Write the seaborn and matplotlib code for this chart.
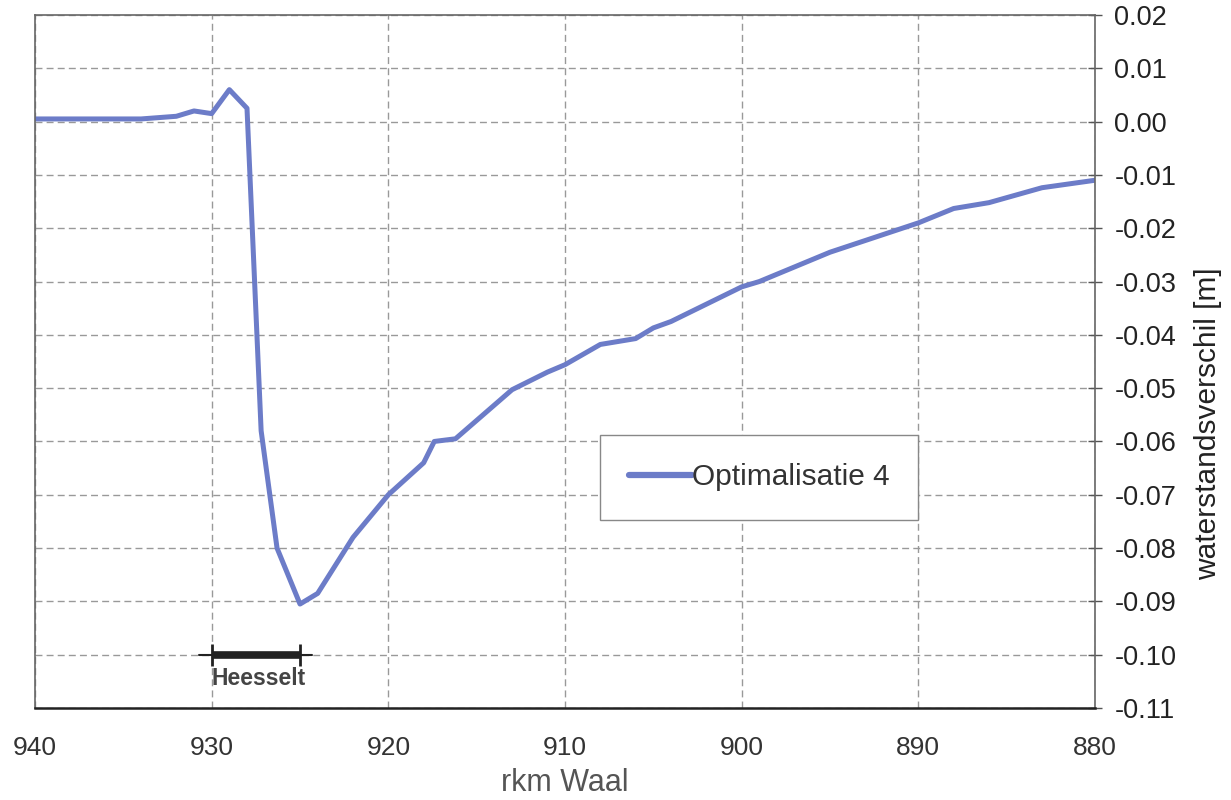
import matplotlib
matplotlib.use("Agg")
import matplotlib.pyplot as plt
import seaborn as sns
import pandas as pd
import numpy as np

# data
rkm = [940, 934, 932, 931, 930, 929, 928, 927.2, 926.3, 925, 924, 922, 920, 919, 918,
       917.4, 916.2, 913, 911, 910, 908, 906, 905, 904, 900, 899, 895, 892, 890, 888, 886, 883, 880]
verschil = [0.0005, 0.0005, 0.001, 0.002, 0.0015, 0.006, 0.0025, -0.058, -0.080, -0.0905,
            -0.0885, -0.078, -0.0700, -0.067, -0.064, -0.060, -0.0595, -0.0503, -0.047,
            -0.0456, -0.0418, -0.0407, -0.0387, -0.0375, -0.031, -0.030, -0.0245, -0.0212,
            -0.019, -0.0163, -0.0152, -0.0124, -0.011]
series_name = "Optimalisatie 4"
heesselt_range = [930, 925]
heesselt_level = -0.10
heesselt_label = "Heesselt"
x_ticks = [940, 930, 920, 910, 900, 890, 880]
y_ticks = [0.02, 0.01, 0.00, -0.01, -0.02, -0.03, -0.04, -0.05, -0.06, -0.07, -0.08, -0.09, -0.10, -0.11]

df = pd.DataFrame({"rkm": rkm, "verschil": verschil, "serie": series_name})

sns.set_style("white")
plt.rcParams['font.family'] = ['Liberation Sans', 'DejaVu Sans']

fig = plt.figure(figsize=(12.31, 8), dpi=100)
ax = fig.add_axes([35/1231, 1 - 708/800, (1095-35)/1231, (708-15)/800])

line_color = "#6c7cc8"
sns.lineplot(data=df, x="rkm", y="verschil", hue="serie", palette=[line_color],
             linewidth=3.6, ax=ax, sort=False)

# Heesselt range
ax.plot(heesselt_range, [heesselt_level]*2, color="#222222", linewidth=5.5,
        solid_capstyle="butt", zorder=4)
ax.plot([heesselt_range[0]+0.7, heesselt_range[1]-0.7], [heesselt_level]*2,
        color="#222222", linewidth=1.5, zorder=4)
ax.plot(heesselt_range, [heesselt_level]*2, linestyle="none", marker="|",
        markersize=16, markeredgewidth=2, color="#222222", zorder=5)
ax.text(heesselt_range[0], heesselt_level - 0.0045, heesselt_label, ha="left", va="center",
        fontsize=16.5, fontweight="bold", color="#444444")

ax.set_xlim(940, 880)
ax.set_ylim(-0.11, 0.02)
ax.set_xticks(x_ticks)
ax.set_yticks(y_ticks)
ax.set_xticklabels([str(v) for v in x_ticks])
ax.set_yticklabels([f"{v:.2f}" for v in y_ticks])

ax.yaxis.tick_right()
ax.yaxis.set_label_position("right")
ax.tick_params(axis="y", direction="inout", length=10, width=1, colors="#555555",
               labelsize=19.5, labelcolor="#222222", pad=9)
ax.tick_params(axis="x", direction="inout", length=10, width=1.5, colors="#333333",
               labelsize=19, labelcolor="#333333", pad=15)

ax.grid(True, color="#999999", linestyle=(0, (5, 3)), linewidth=1.0)
ax.set_axisbelow(True)

for side in ["left", "top", "right"]:
    ax.spines[side].set_color("#666666")
    ax.spines[side].set_linewidth(1.2)
ax.spines["bottom"].set_color("#222222")
ax.spines["bottom"].set_linewidth(1.8)

ax.set_xlabel("rkm Waal", fontsize=22, color="#555555", labelpad=6)
ax.set_ylabel("waterstandsverschil [m]", fontsize=21.5, color="#222222", rotation=90)
ax.yaxis.set_label_coords(1.107, 0.41)
ax.yaxis.label.set_horizontalalignment("center")
ax.yaxis.label.set_verticalalignment("center")

leg = ax.legend(loc="center", bbox_to_anchor=(0.683, 0.333), fontsize=21.5,
                frameon=True, fancybox=False, edgecolor="#888888", framealpha=1,
                borderpad=0.95, handlelength=2.1, handletextpad=0.0, borderaxespad=0)
leg.get_frame().set_linewidth(1.0)
for t in leg.get_texts():
    t.set_color("#333333")
for h in leg.get_lines():
    h.set_linewidth(4.5)

fig.savefig("out.png", dpi=100, facecolor="white")
